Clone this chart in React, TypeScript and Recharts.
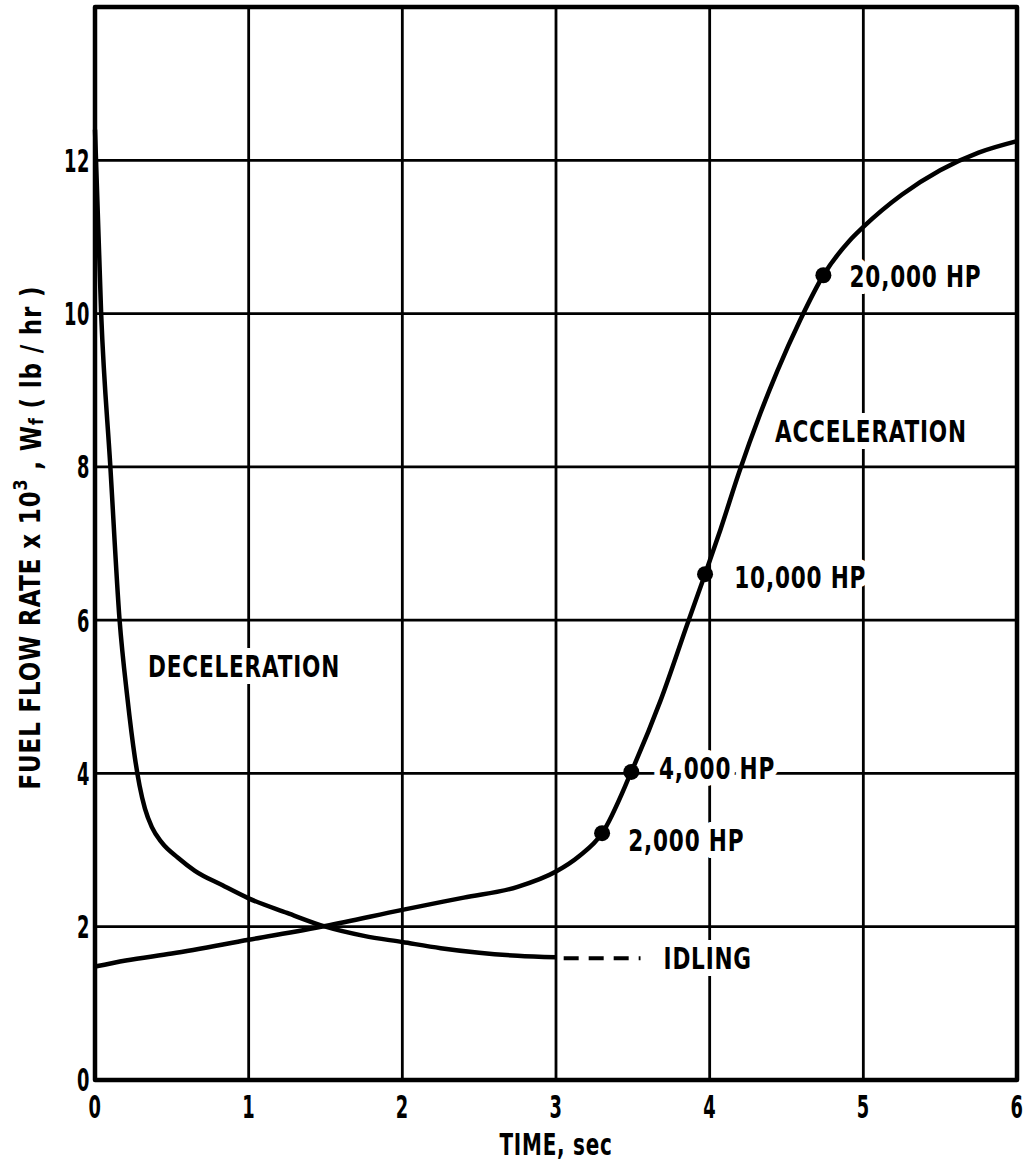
import {
  ComposedChart,
  Line,
  Scatter,
  XAxis,
  YAxis,
  CartesianGrid,
  ReferenceArea,
  ReferenceDot,
  Label,
} from 'recharts';

const FONT = '"DejaVu Sans Condensed", "DejaVu Sans", sans-serif';

// deceleration curve, time (sec) vs fuel flow (x 10^3 lb/hr)
const decelTime = [0, 0.04, 0.1, 0.16, 0.21, 0.26, 0.29, 0.325, 0.37, 0.434, 0.54, 0.65, 0.83, 1.0, 1.25, 1.5, 1.75, 2.0, 2.25, 2.5, 2.75, 3.0];
const decelFlow = [12.4, 10.0, 8.0, 6.0, 5.0, 4.2, 3.84, 3.54, 3.3, 3.1, 2.9, 2.73, 2.54, 2.37, 2.18, 2.0, 1.88, 1.8, 1.72, 1.66, 1.62, 1.6];

// idling (dashed)
const idleTime = [3.05, 3.55];
const idleFlow = [1.59, 1.59];

// acceleration curve
const accelTime = [0, 0.2, 0.5, 1.0, 1.5, 2.0, 2.4, 2.75, 3.0, 3.15, 3.3, 3.49, 3.68, 3.86, 3.97, 4.07, 4.19, 4.33, 4.44, 4.59, 4.74, 4.91, 5.0, 5.25, 5.5, 5.75, 6.0];
const accelFlow = [1.48, 1.56, 1.65, 1.83, 2.01, 2.22, 2.38, 2.52, 2.72, 2.92, 3.22, 4.02, 4.95, 5.98, 6.6, 7.18, 7.92, 8.7, 9.25, 9.92, 10.5, 10.95, 11.13, 11.55, 11.87, 12.1, 12.25];

// horsepower marks on the acceleration curve
const hpTime = [3.3, 3.49, 3.97, 4.74];
const hpFlow = [3.22, 4.02, 6.6, 10.5];

const xTicks = [0, 1, 2, 3, 4, 5, 6];
const yTicks = [0, 2, 4, 6, 8, 10, 12];

// text notes: left anchor in data units
const noteText = ['20,000 HP', 'ACCELERATION', '10,000 HP', '4,000 HP', '2,000 HP', 'IDLING', 'DECELERATION'];
const noteTime = [4.91, 4.425, 4.16, 3.67, 3.47, 3.7, 0.345];
const noteFlow = [10.49, 8.455, 6.56, 4.07, 3.13, 1.59, 5.39];

const zip = (ts: number[], ws: number[]) => ts.map((t, i) => ({ t, w: ws[i] }));
const decelData = zip(decelTime, decelFlow);
const idleData = zip(idleTime, idleFlow);
const accelData = zip(accelTime, accelFlow);
const hpData = zip(hpTime, hpFlow);

const textStyle = { fontFamily: FONT, fontWeight: 700, fontSize: 30, fill: '#000' };

// squeezed bold text, the original lettering is very condensed
function Cond({ x, y, sx = 0.8, anchor = 'start', size = 30, halo = false, rotate = 0, children }: any) {
  return (
    <text
      transform={`translate(${x},${y}) rotate(${rotate}) scale(${sx},1)`}
      textAnchor={anchor}
      dominantBaseline="central"
      letterSpacing={1}
      stroke={halo ? '#fff' : 'none'}
      strokeWidth={halo ? 14 : 0}
      strokeLinejoin="round"
      paintOrder="stroke"
      style={{ ...textStyle, fontSize: size }}
    >
      {children}
    </text>
  );
}

function XTick({ x, y, payload }: any) {
  return (
    <Cond x={x} y={y + 25} sx={0.62} size={32} anchor="middle">
      {payload.value}
    </Cond>
  );
}

function YTick({ x, y, payload }: any) {
  return (
    <Cond x={x + 3} y={y} sx={0.62} size={32} anchor="end">
      {payload.value}
    </Cond>
  );
}

function XTitle({ viewBox }: any) {
  return (
    <Cond x={viewBox.x + viewBox.width / 2} y={viewBox.y + viewBox.height - 19} sx={0.74} size={30} anchor="middle">
      TIME, sec
    </Cond>
  );
}

function YTitle({ viewBox }: any) {
  return (
    <Cond x={viewBox.x + 30} y={viewBox.y + viewBox.height / 2 - 6} sx={0.88} size={29} anchor="middle" rotate={-90}>
      FUEL FLOW RATE x 10<tspan dy={-10} fontSize={20}>3</tspan>
      <tspan dy={10}> , W</tspan>
      <tspan dy={6} fontSize={20}>f</tspan>
      <tspan dy={-6}>{'   ( lb / hr )'}</tspan>
    </Cond>
  );
}

export default function App() {
  return (
    <div style={{ position: 'absolute', left: 0, top: 0, background: '#fff' }}>
      <ComposedChart width={1029} height={1164} margin={{ top: 7, right: 12, left: 0, bottom: 0 }}>
        <CartesianGrid stroke="#000" strokeWidth={2.8} />
        <XAxis
          type="number"
          dataKey="t"
          domain={[0, 6]}
          ticks={xTicks}
          height={84}
          tickSize={0}
          axisLine={false}
          tick={<XTick />}
        >
          <Label content={<XTitle />} />
        </XAxis>
        <YAxis
          type="number"
          dataKey="w"
          domain={[0, 14]}
          ticks={yTicks}
          width={95}
          tickSize={0}
          tickMargin={8}
          axisLine={false}
          tick={<YTick />}
        >
          <Label content={<YTitle />} />
        </YAxis>
        <ReferenceArea x1={0} x2={6} y1={0} y2={14} fill="none" stroke="#000" strokeWidth={4.5} strokeLinejoin="round" />
        {noteText.map((text, i) => (
          <ReferenceDot
            key={text}
            x={noteTime[i]}
            y={noteFlow[i]}
            shape={(p: any) => (
              <Cond x={p.cx} y={p.cy} sx={0.8} halo>
                {text}
              </Cond>
            )}
          />
        ))}
        <Line data={decelData} dataKey="w" type="monotone" stroke="#000" strokeWidth={4.5} dot={false} isAnimationActive={false} />
        <Line data={idleData} dataKey="w" type="linear" stroke="#000" strokeWidth={4} strokeDasharray="15 10" dot={false} isAnimationActive={false} />
        <Line data={accelData} dataKey="w" type="monotone" stroke="#000" strokeWidth={4.5} dot={false} isAnimationActive={false} />
        <Scatter
          data={hpData}
          dataKey="w"
          fill="#000"
          isAnimationActive={false}
          shape={(p: any) => <circle cx={p.cx} cy={p.cy} r={8} fill="#000" />}
        />
      </ComposedChart>
    </div>
  );
}
